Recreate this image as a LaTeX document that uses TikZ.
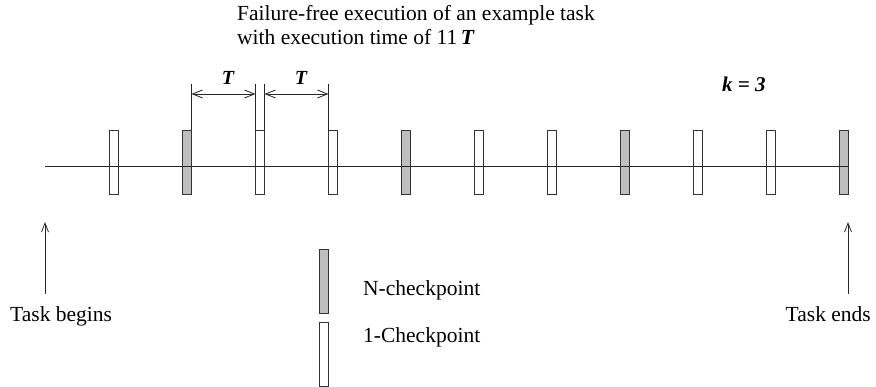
\documentclass[tikz,border=0pt]{standalone}
\usepackage{fontspec}
\setmainfont{Liberation Serif}
\usetikzlibrary{arrows.meta}
\begin{document}
\begin{tikzpicture}[x=1pt,y=1pt,
  ckpt/.style={draw=black!80, line width=0.8pt, minimum width=9pt,
    minimum height=64pt, inner sep=0pt, outer sep=0pt},
  ncp/.style={ckpt, fill=black!25},
  onecp/.style={ckpt, fill=white},
  txt/.style={font=\fontsize{21.5}{25}\selectfont, inner sep=0pt, anchor=base west},
  lbl/.style={font=\fontsize{20}{24}\selectfont\bfseries\itshape, inner sep=0pt, anchor=base},
  rule/.style={line width=0.8pt, draw=black!85},
  dimarrow/.style={rule, {Straight Barb[length=10pt,width=8pt]}-{Straight Barb[length=10pt,width=8pt]}},
  uparrow/.style={rule, -{Straight Barb[length=9pt,width=7pt]}}
]
\useasboundingbox (0,0) rectangle (876,386);

% caption
\node[txt] (cap1) at (237,365) {Failure-free execution of an example task};
\node[txt] (cap2) at (237,341) {with execution time of 11\,\textbf{\textit{T}}};

% checkpoints along the timeline (every third one is an N-checkpoint)
\foreach \i/\s in {1/onecp,2/ncp,3/onecp,4/onecp,5/ncp,6/onecp,7/onecp,8/ncp,9/onecp,10/onecp,11/ncp}
  \node[\s] (c\i) at ({114+73*(\i-1)},224) {};

% timeline
\coordinate (start) at (45,220);
\draw[rule] (start) -- (start -| c11.east);

% period markers
\draw[rule] (c2.north east) -- ++(0,46);
\draw[rule] (c3.north west) -- ++(0,46);
\draw[rule] (c3.north east) -- ++(0,46);
\draw[rule] (c4.north west) -- ++(0,46);
\path (c2.north east) ++(0,36) coordinate (d1);
\path (c3.north west) ++(0,36) coordinate (d2);
\path (c3.north east) ++(0,36) coordinate (d3);
\path (c4.north west) ++(0,36) coordinate (d4);
\draw[dimarrow] (d1) -- (d2);
\draw[dimarrow] (d3) -- (d4);
\node[lbl] (t1) at (228,301) {T};
\node[lbl] (t2) at (301,301) {T};

\node[lbl, font=\fontsize{21}{24}\selectfont\bfseries\itshape, anchor=base west] (k) at (722,294) {k = 3};

% begin / end markers
\coordinate (bTail) at (45,92);
\coordinate (bTip) at (45,164);
\coordinate (eTail) at (848,92);
\coordinate (eTip) at (848,164);
\draw[uparrow] (bTail) -- (bTip);
\draw[uparrow] (eTail) -- (eTip);
\node[txt] (begins) at (10,64) {Task begins};
\node[txt, anchor=base east] (ends) at (871,64) {Task ends};

% legend
\node[ncp] (legN) at (323.8,105) {};
\node[onecp] (leg1) at (323.8,32) {};
\node[txt] (legNt) at (363,91) {N-checkpoint};
\node[txt] (leg1t) at (363,44) {1-Checkpoint};
\end{tikzpicture}
\end{document}
